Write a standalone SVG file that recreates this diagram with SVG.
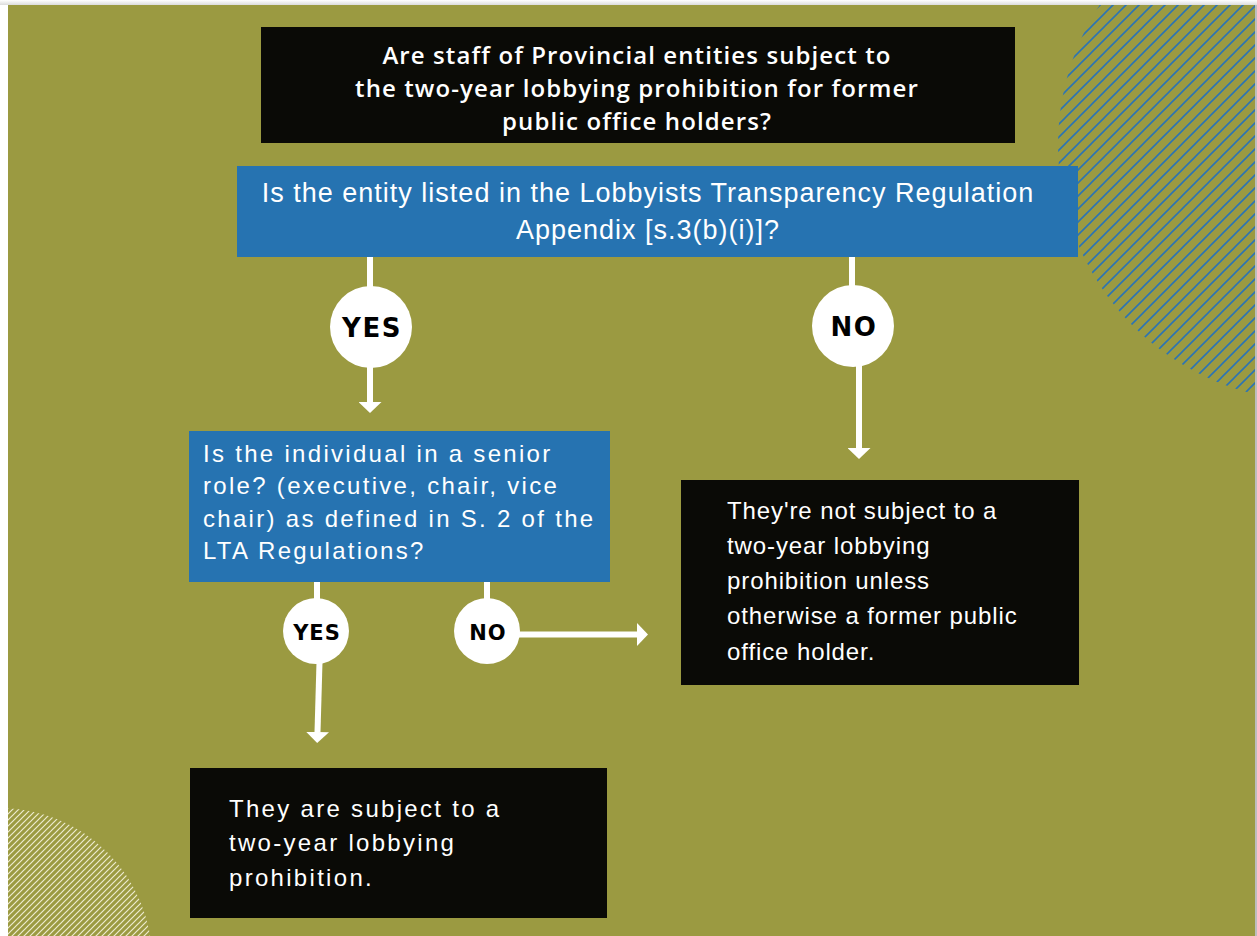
<svg xmlns="http://www.w3.org/2000/svg" width="1257" height="936" viewBox="0 0 1257 936">
<defs>
<linearGradient id="topShadow" x1="0" y1="0" x2="0" y2="1">
<stop offset="0" stop-color="#ffffff"/>
<stop offset="1" stop-color="#dcdcdc"/>
</linearGradient>
<pattern id="hatchBlue" patternUnits="userSpaceOnUse" x="0" y="0" width="13" height="13">
<path d="M-3.25,16.25 L16.25,-3.25 M-16.25,16.25 L3.25,-3.25 M9.75,16.25 L29.25,-3.25" stroke="#2c74b3" stroke-width="1.6" fill="none"/>
</pattern>
<pattern id="hatchWhite" patternUnits="userSpaceOnUse" x="0" y="0" width="6" height="6">
<path d="M-1.5,7.5 L7.5,-1.5 M-7.5,7.5 L1.5,-1.5 M4.5,7.5 L13.5,-1.5" stroke="#eeecd0" stroke-width="1.2" fill="none"/>
</pattern>
<clipPath id="bgClip"><rect x="8" y="5" width="1249" height="931"/></clipPath>
<marker id="arrow" viewBox="0 0 11 23" refX="0" refY="11.5" markerWidth="11" markerHeight="23" markerUnits="userSpaceOnUse" orient="auto">
<path d="M0,0 L11,11.5 L0,23 Z" fill="#ffffff"/>
</marker>
</defs>
<style>
.box-black{fill:#0a0a06}
.box-blue{fill:#2673b1}
.title{font-family:"Open Sans","Liberation Sans",sans-serif;font-weight:600;font-size:24px;fill:#ffffff;text-anchor:middle;letter-spacing:1.1px}
.q1{font-family:"Liberation Sans",Arial,sans-serif;font-size:27px;fill:#ffffff;text-anchor:middle;letter-spacing:1px}
.body{font-family:"Liberation Sans",Arial,sans-serif;font-size:24px;fill:#ffffff;letter-spacing:2.3px}
.body-tight{font-family:"Liberation Sans",Arial,sans-serif;font-size:24px;fill:#ffffff;letter-spacing:0.9px}
.circ{fill:#ffffff}
.lbl{font-family:"DejaVu Sans",sans-serif;font-weight:bold;fill:#000000;text-anchor:middle}
.conn{stroke:#ffffff;stroke-width:6;fill:none}
</style>
<rect x="0" y="0" width="1257" height="936" fill="#ffffff"/>
<rect x="0" y="0" width="1257" height="5" fill="url(#topShadow)"/>
<rect x="8" y="5" width="1249" height="931" fill="#9b9a41"/>
<g clip-path="url(#bgClip)">
<circle cx="1314" cy="145" r="256" fill="url(#hatchBlue)"/>
<circle cx="0" cy="960" r="152" fill="url(#hatchWhite)"/>
</g>
<rect x="1255" y="5" width="2" height="931" fill="#bdbdbd"/>

<g id="connectors">
<line class="conn" x1="370" y1="256" x2="370" y2="290"/>
<line class="conn" x1="370" y1="366" x2="370" y2="402" marker-end="url(#arrow)"/>
<line class="conn" x1="852" y1="256" x2="852" y2="290"/>
<line class="conn" x1="859" y1="366" x2="859" y2="448" marker-end="url(#arrow)"/>
<line class="conn" x1="317" y1="581" x2="317" y2="600"/>
<line class="conn" x1="319.5" y1="662" x2="317.5" y2="732" marker-end="url(#arrow)"/>
<line class="conn" x1="487" y1="581" x2="487" y2="600"/>
<line class="conn" x1="518" y1="634.5" x2="637" y2="634.5" marker-end="url(#arrow)"/>
</g>

<g id="title">
<rect class="box-black" x="261" y="27" width="754" height="116"/>
<text class="title" x="637" y="64">Are staff of Provincial entities subject to</text>
<text class="title" x="637" y="97">the two-year lobbying prohibition for former</text>
<text class="title" x="637" y="130">public office holders?</text>
</g>

<g id="q1">
<rect class="box-blue" x="237" y="166" width="841" height="91"/>
<text class="q1" x="648" y="202">Is the entity listed in the Lobbyists Transparency Regulation</text>
<text class="q1" x="648" y="239">Appendix [s.3(b)(i)]?</text>
</g>

<g id="yes1">
<circle class="circ" cx="371" cy="327" r="41"/>
<text class="lbl" x="372" y="337" font-size="26" letter-spacing="1.5">YES</text>
</g>

<g id="no1">
<circle class="circ" cx="853" cy="326" r="41"/>
<text class="lbl" x="854" y="336" font-size="26" letter-spacing="1.5">NO</text>
</g>

<g id="q2">
<rect class="box-blue" x="189" y="431" width="421" height="151"/>
<text class="body" x="203" y="462">Is the individual in a senior</text>
<text class="body" x="203" y="494">role? (executive, chair, vice</text>
<text class="body" x="203" y="527">chair) as defined in S. 2 of the</text>
<text class="body" x="203" y="559">LTA Regulations?</text>
</g>

<g id="yes2">
<circle class="circ" cx="316" cy="631" r="33"/>
<text class="lbl" x="317" y="640" font-size="21" letter-spacing="1">YES</text>
</g>

<g id="no2">
<circle class="circ" cx="487" cy="631" r="33"/>
<text class="lbl" x="488" y="640" font-size="21" letter-spacing="1">NO</text>
</g>

<g id="notSubject">
<rect class="box-black" x="681" y="480" width="398" height="205"/>
<text class="body-tight" x="727" y="519">They're not subject to a</text>
<text class="body-tight" x="727" y="554">two-year lobbying</text>
<text class="body-tight" x="727" y="589">prohibition unless</text>
<text class="body-tight" x="727" y="624">otherwise a former public</text>
<text class="body-tight" x="727" y="660">office holder.</text>
</g>

<g id="subject">
<rect class="box-black" x="190" y="768" width="417" height="150"/>
<text class="body" x="229" y="817">They are subject to a</text>
<text class="body" x="229" y="851">two-year lobbying</text>
<text class="body" x="229" y="886">prohibition.</text>
</g>
</svg>
